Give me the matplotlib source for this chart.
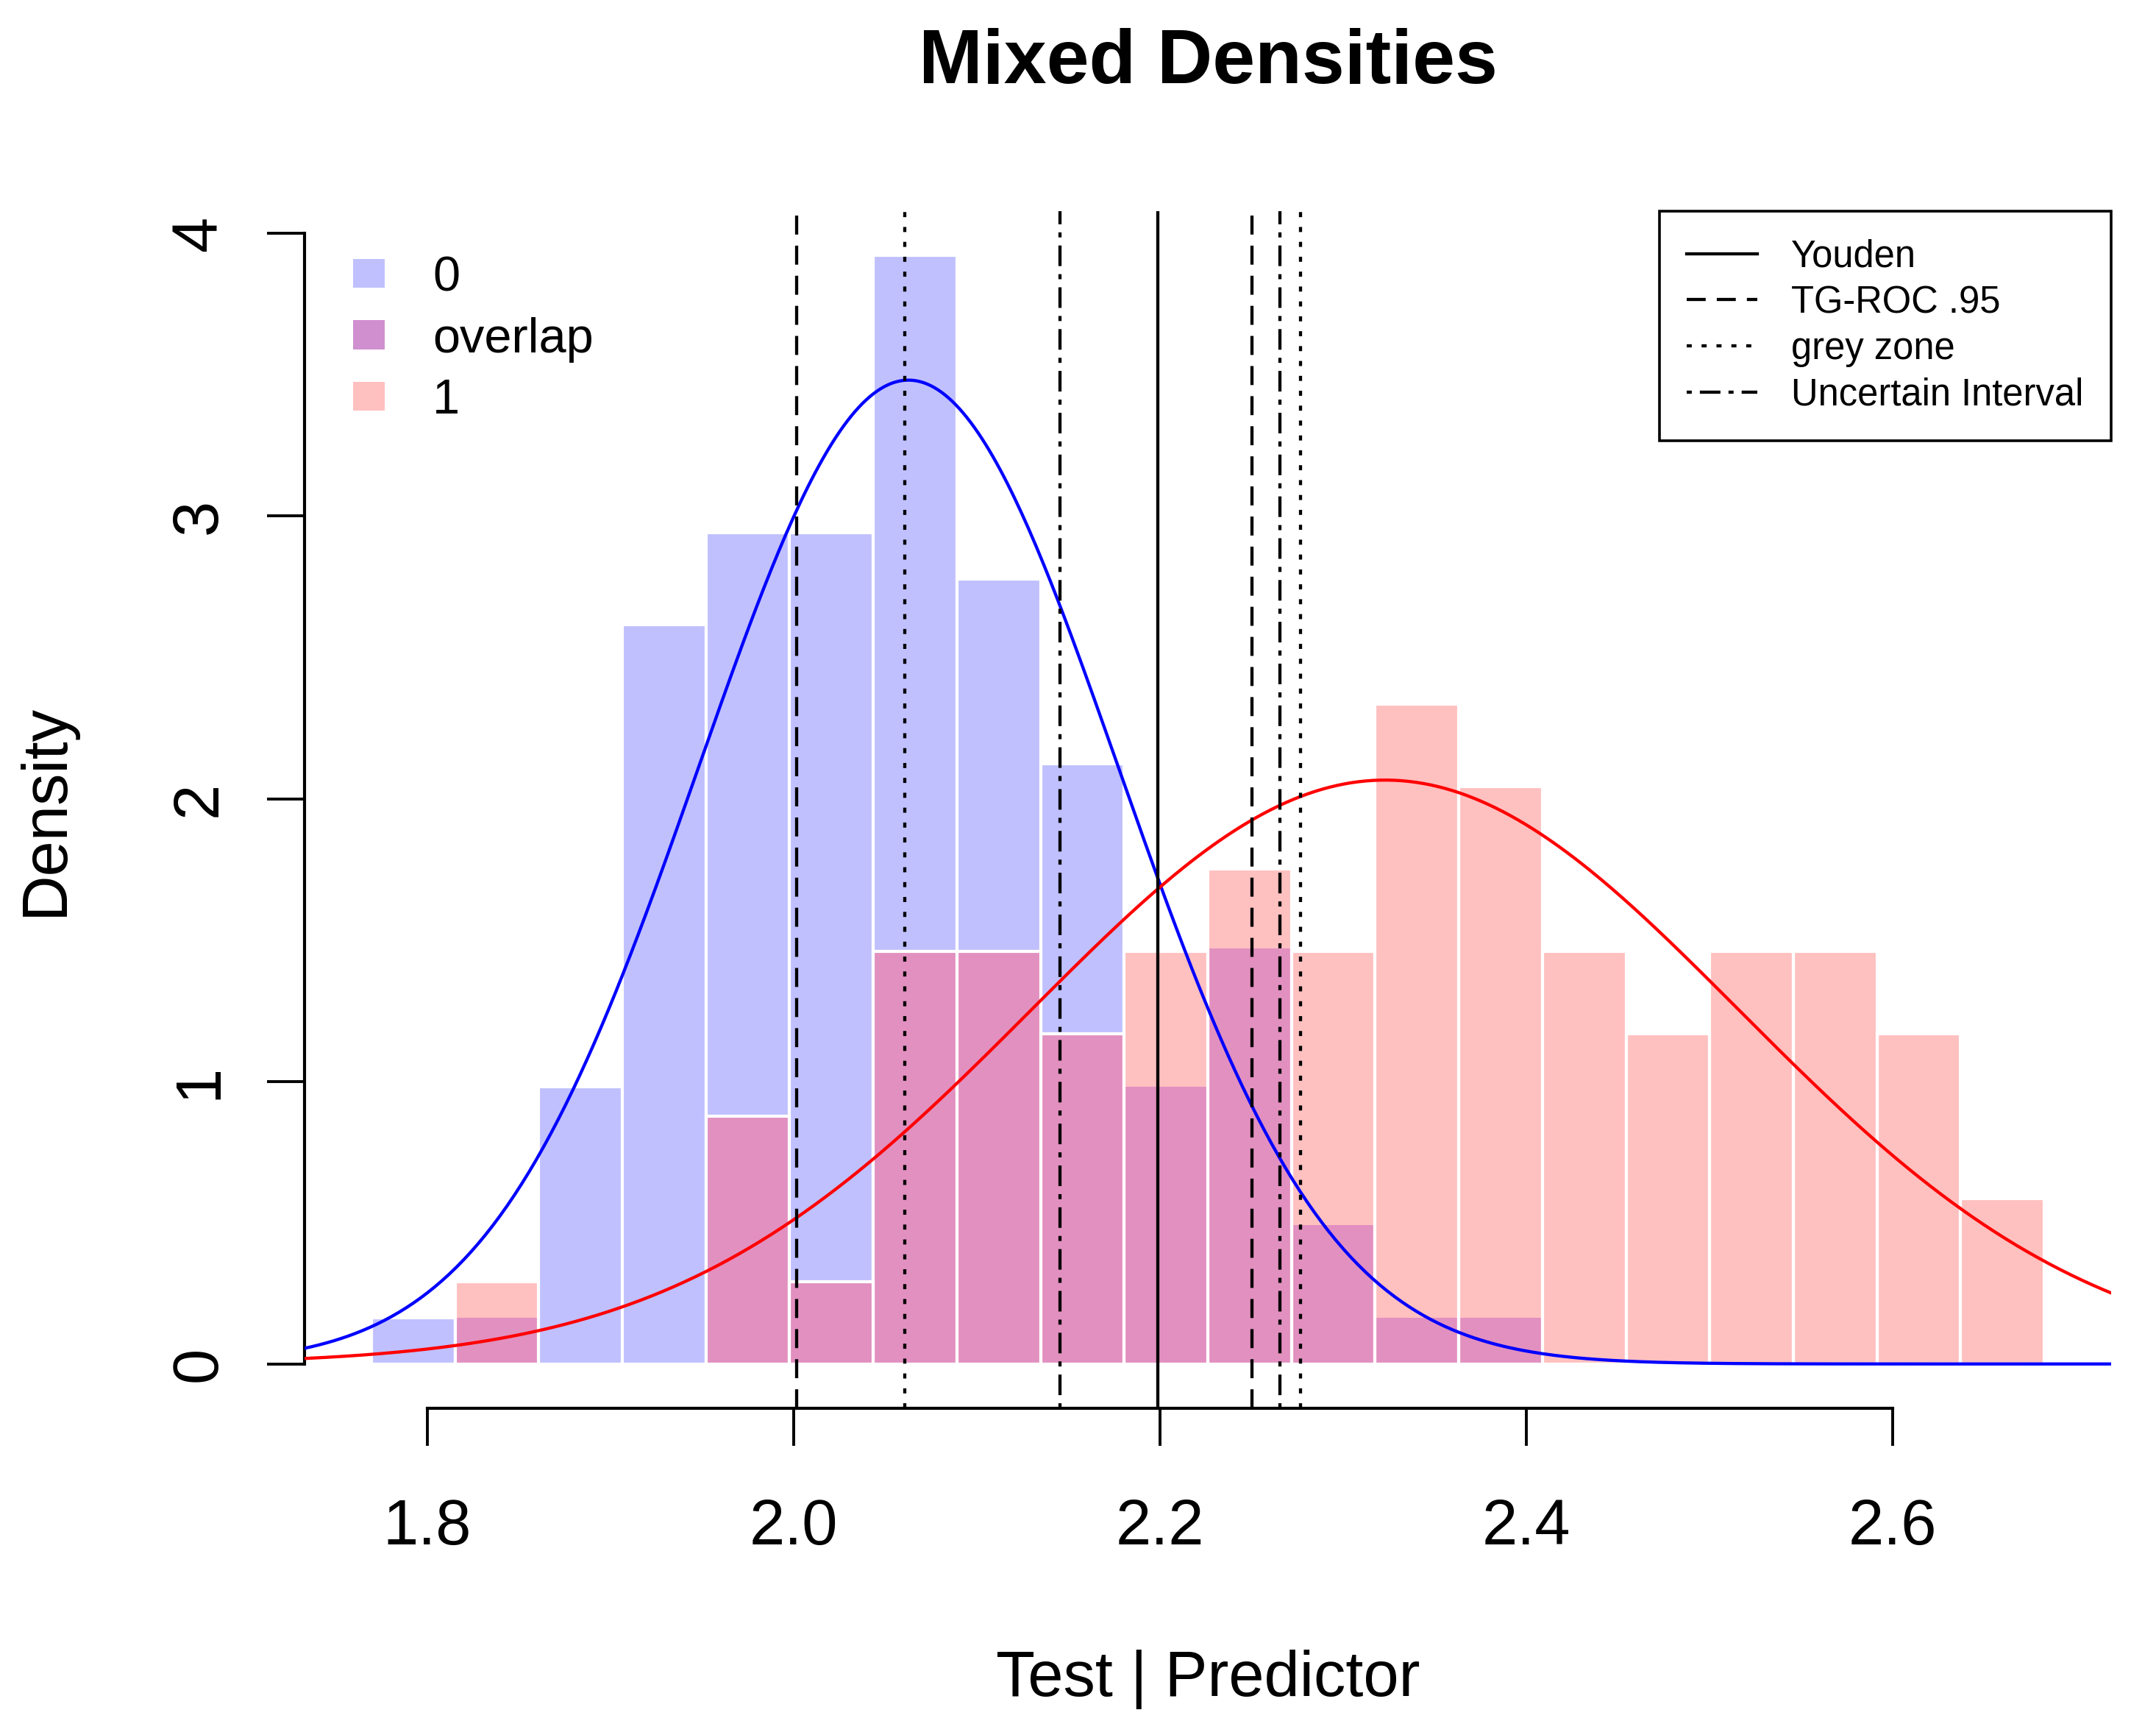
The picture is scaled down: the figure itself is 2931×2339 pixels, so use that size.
import numpy as np
import matplotlib.pyplot as plt
from matplotlib.patches import Patch
from matplotlib.lines import Line2D

plt.rcParams['font.family'] = ['Liberation Sans', 'DejaVu Sans']

# range of the test scores, histogram uses 20 equal bins from min to max
score_min = 1.7696
score_max = 2.6829
n_bins = 20

# counts per bin (group 0 and group 1)
counts_0 = np.array([1, 1, 6, 16, 18, 18, 24, 17, 13, 6, 9, 3, 1, 1, 0, 0, 0, 0, 0, 0])
counts_1 = np.array([0, 2, 0, 0, 6, 2, 10, 10, 8, 10, 12, 10, 16, 14, 10, 8, 10, 10, 8, 4])

# normal curves per group
mean_0, sd_0 = 2.0628, 0.1146
mean_1, sd_1 = 2.323, 0.1931

# cut points
youden = [2.199]
tg_roc = [2.0018, 2.2505]
grey_zone = [2.0608, 2.2767]
uncertain = [2.1456, 2.2657]

x_ticks = [1.8, 2.0, 2.2, 2.4, 2.6]
y_ticks = [0, 1, 2, 3, 4]

blue_fill = '#C0C0FF'
red_fill = '#FFC0C0'
mix_fill = '#E290C0'
mix_key = '#D090D0'

lw_line = 3.1
dashed = (0, (6.0, 3.5))
dotted = (0, (1.6, 3.1))
dotdash = (0, (1.6, 2.55, 6.5, 2.55))

edges = np.linspace(score_min, score_max, n_bins + 1)
width = edges[1] - edges[0]
dens_0 = counts_0 / (counts_0.sum() * width)
dens_1 = counts_1 / (counts_1.sum() * width)
overlap = np.minimum(dens_0, dens_1)

fig = plt.figure(figsize=(29.31, 23.39), dpi=100)
ax = fig.add_axes([0.14125, 0.18170, 0.83794, 0.69560])

m0 = dens_0 > 0
m1 = dens_1 > 0
mo = overlap > 0
ax.bar(edges[:-1][m0], dens_0[m0], width=width, align='edge',
       color=blue_fill, edgecolor='white', linewidth=3, zorder=1)
ax.bar(edges[:-1][m1], dens_1[m1], width=width, align='edge',
       color=red_fill, edgecolor='none', zorder=1.1)
ax.bar(edges[:-1][mo], overlap[mo], width=width, align='edge',
       color=mix_fill, edgecolor='none', zorder=1.2)
ax.bar(edges[:-1][m1], dens_1[m1], width=width, align='edge',
       fill=False, edgecolor='white', linewidth=3, zorder=1.3)

# x and y range like R (4% extension)
rng = score_max - score_min
x0, x1 = score_min - 0.04 * rng, score_max + 0.04 * rng
ytop = max(dens_0.max(), dens_1.max())
ax.set_xlim(x0, x1)
ax.set_ylim(-0.04 * ytop, 1.04 * ytop)

xs = np.linspace(x0, x1, 500)
pdf_0 = np.exp(-0.5 * ((xs - mean_0) / sd_0) ** 2) / (sd_0 * np.sqrt(2 * np.pi))
pdf_1 = np.exp(-0.5 * ((xs - mean_1) / sd_1) ** 2) / (sd_1 * np.sqrt(2 * np.pi))
ax.plot(xs, pdf_0, color='blue', lw=lw_line, zorder=3)
ax.plot(xs, pdf_1, color='red', lw=lw_line, zorder=3)

for v in youden:
    ax.axvline(v, color='black', lw=lw_line, zorder=4)
for v in tg_roc:
    ax.axvline(v, color='black', lw=lw_line, linestyle=dashed, zorder=4)
for v in grey_zone:
    ax.axvline(v, color='black', lw=lw_line, linestyle=dotted, zorder=4)
for v in uncertain:
    ax.axvline(v, color='black', lw=lw_line, linestyle=dotdash, zorder=4)

# axes in R style
for s in ['top', 'right']:
    ax.spines[s].set_visible(False)
ax.spines['left'].set_bounds(y_ticks[0], y_ticks[-1])
ax.spines['bottom'].set_bounds(x_ticks[0], x_ticks[-1])
ax.spines['left'].set_linewidth(3)
ax.spines['bottom'].set_linewidth(3)
ax.set_xticks(x_ticks)
ax.set_xticklabels([f'{t:.1f}' for t in x_ticks])
ax.set_yticks(y_ticks)
ax.set_yticklabels([str(t) for t in y_ticks], rotation=90, va='center')
ax.tick_params(direction='out', length=36.7, width=2.8, labelsize=62.5)
ax.tick_params(axis='x', pad=51)
ax.tick_params(axis='y', pad=36.7)

ax.set_xlabel('Test | Predictor', fontsize=62.5)
ax.xaxis.set_label_coords(0.5, -0.2015)
ax.set_ylabel('Density', fontsize=62.5)
ax.yaxis.set_label_coords(-0.1266, 0.5)
ax.set_title('Mixed Densities', fontsize=75, fontweight='bold', pad=125)

# legend for the bars
bar_keys = [Patch(facecolor=blue_fill, edgecolor='none', label='0'),
            Patch(facecolor=mix_key, edgecolor='none', label='overlap'),
            Patch(facecolor=red_fill, edgecolor='none', label='1')]
leg1 = ax.legend(handles=bar_keys, loc='upper left', bbox_to_anchor=(0.0269, 0.9630),
                 frameon=False, fontsize=48, handlelength=0.65, handleheight=0.53,
                 handletextpad=0.97, labelspacing=0.32, borderpad=0, borderaxespad=0)
ax.add_artist(leg1)

# legend for the cut points
line_keys = [Line2D([], [], color='black', lw=lw_line, label='Youden'),
             Line2D([], [], color='black', lw=lw_line, linestyle=dashed, label='TG-ROC .95'),
             Line2D([], [], color='black', lw=lw_line, linestyle=dotted, label='grey zone'),
             Line2D([], [], color='black', lw=lw_line, linestyle=dotdash, label='Uncertain Interval')]
leg2 = ax.legend(handles=line_keys, loc='upper right', bbox_to_anchor=(1.0, 1.0),
                 fontsize=36.5, handlelength=1.9, handletextpad=0.9, labelspacing=0.27,
                 borderpad=0.74, borderaxespad=0, fancybox=False, framealpha=1,
                 edgecolor='black')
leg2.get_frame().set_linewidth(2.6)

fig.savefig('out.png', dpi=100)
